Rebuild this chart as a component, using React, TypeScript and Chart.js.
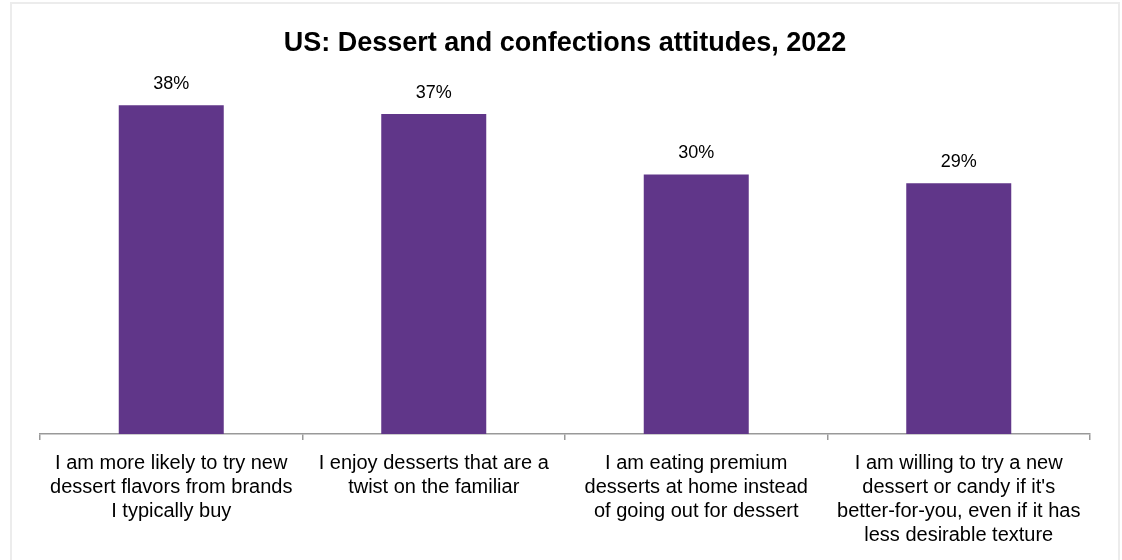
import React, { useEffect, useRef } from "react";
import { Chart, registerables } from "chart.js";

Chart.register(...registerables);

const titleText = "US: Dessert and confections attitudes, 2022";
const categories: string[][] = [
  ["I am more likely to try new", "dessert flavors from brands", "I typically buy"],
  ["I enjoy desserts that are a", "twist on the familiar"],
  ["I am eating premium", "desserts at home instead", "of going out for dessert"],
  ["I am willing to try a new", "dessert or candy if it's", "better-for-you, even if it has", "less desirable texture"],
];
const values: number[] = [38, 37, 30, 29];
const valueLabels: string[] = ["38%", "37%", "30%", "29%"];

const FONT = "'Liberation Sans', Arial, Helvetica, sans-serif";

const dataLabelPlugin = {
  id: "dataLabels",
  afterDatasetsDraw(chart: any) {
    const ctx = chart.ctx;
    const meta = chart.getDatasetMeta(0);
    ctx.save();
    ctx.font = `18px ${FONT}`;
    ctx.fillStyle = "#000000";
    ctx.textAlign = "center";
    ctx.textBaseline = "middle";
    meta.data.forEach((bar: any, i: number) => {
      ctx.fillText(valueLabels[i], bar.x, bar.y - 21);
    });
    ctx.restore();
  },
};

export default function App() {
  const canvasRef = useRef<HTMLCanvasElement | null>(null);

  useEffect(() => {
    if (!canvasRef.current) return;
    const chart = new Chart(canvasRef.current, {
      type: "bar",
      data: {
        labels: categories,
        datasets: [
          {
            data: values,
            backgroundColor: "#603689",
            borderWidth: 0,
            barPercentage: 0.4,
            categoryPercentage: 1,
          },
        ],
      },
      options: {
        responsive: false,
        animation: false,
        layout: { padding: { left: 40, right: 32, top: 0, bottom: 0 } },
        plugins: {
          legend: { display: false },
          tooltip: { enabled: false },
          title: {
            display: true,
            text: titleText,
            color: "#000000",
            font: { family: FONT, size: 27, weight: "bold", lineHeight: 1.2 },
            padding: { top: 27, bottom: 28.6 },
          },
        },
        scales: {
          x: {
            offset: true,
            grid: {
              display: true,
              offset: true,
              drawOnChartArea: false,
              drawTicks: true,
              tickLength: 6,
              color: "#999999",
              lineWidth: 1.5,
            },
            border: { display: true, color: "#999999", width: 1.5 },
            ticks: {
              color: "#000000",
              font: { family: FONT, size: 20, lineHeight: 1.2 },
              padding: 11,
              maxRotation: 0,
              minRotation: 0,
              autoSkip: false,
            },
            afterFit(scale: any) {
              scale.height = 126;
            },
          },
          y: {
            display: false,
            min: 0,
            max: 40,
          },
        },
      },
      plugins: [dataLabelPlugin],
    });
    return () => chart.destroy();
  }, []);

  return (
    <div style={{ position: "fixed", left: 0, top: 0, width: 1122, height: 560, background: "#ffffff" }}>
      <div
        style={{
          position: "absolute",
          left: 10,
          top: 2,
          width: 1110,
          height: 600,
          border: "2px solid #ececec",
          boxSizing: "border-box",
        }}
      />
      <canvas ref={canvasRef} width={1122} height={560} style={{ position: "absolute", left: 0, top: 0, display: "block" }} />
    </div>
  );
}
